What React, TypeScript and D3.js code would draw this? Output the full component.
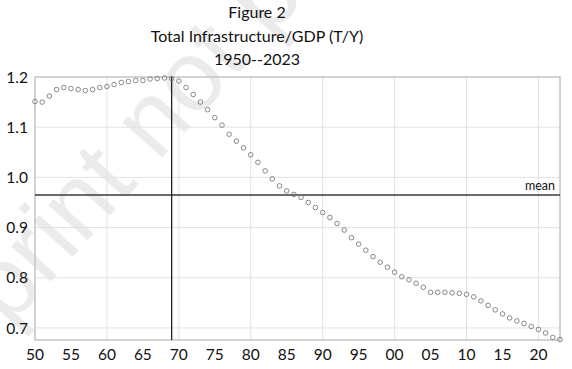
import * as d3 from "d3";

const years = d3.range(1950, 2024);
const ratio = [
  1.151, 1.15, 1.162, 1.175, 1.179, 1.177, 1.175, 1.173, 1.175, 1.179,
  1.181, 1.185, 1.189, 1.191, 1.193, 1.193, 1.196, 1.197, 1.198, 1.197,
  1.192, 1.179, 1.165, 1.15, 1.135, 1.119, 1.104, 1.086, 1.072, 1.059,
  1.045, 1.03, 1.013, 0.997, 0.983, 0.973, 0.966, 0.96, 0.95, 0.94,
  0.93, 0.92, 0.908, 0.895, 0.88, 0.867, 0.855, 0.842, 0.831, 0.821,
  0.811, 0.802, 0.796, 0.789, 0.781, 0.771, 0.771, 0.771, 0.77, 0.769,
  0.767, 0.762, 0.754, 0.745, 0.736, 0.728, 0.72, 0.714, 0.709, 0.703,
  0.697, 0.69, 0.681, 0.677,
];
const meanValue = 0.965;
const peakYear = 1969;
const yTicks = [0.7, 0.8, 0.9, 1.0, 1.1, 1.2];
const xLabelYears = d3.range(1950, 2021, 5);
const xGridYears = d3.range(1960, 2021, 10);
const titleLines = ["Figure 2", "Total Infrastructure/GDP (T/Y)", "1950--2023"];

const W = 572;
const H = 369;
const font = "Lato, 'Open Sans', sans-serif";

export default function App() {
  const x = d3.scaleLinear().domain([1950, 2023]).range([35, 560]);
  const y = d3.scaleLinear().domain([0.676, 1.2]).range([340, 77]);
  const [x0, x1] = x.range();
  const [yb, yt] = y.range();

  return (
    <svg width={W} height={H} style={{ position: "absolute", left: 0, top: 0, background: "#fff" }}>
      {/* faint watermark */}
      <g
        transform="translate(8.7,328) rotate(-48)"
        fill="#ebebeb"
        fontFamily="'Liberation Sans', Arial, sans-serif"
        fontSize={100}
      >
        <text textAnchor="end">Pre</text>
        <text textAnchor="start">print not peer reviewed</text>
      </g>

      {titleLines.map((t, i) => (
        <text key={t} x={257} y={18 + i * 23.5} textAnchor="middle" fontFamily={font} fontSize={16} fill="#111">
          {t}
        </text>
      ))}

      {/* grid */}
      {yTicks.slice(0, -1).map((v) => (
        <line key={v} x1={x0} x2={x1} y1={y(v)} y2={y(v)} stroke="#e2e2e2" strokeWidth={1} />
      ))}
      {xGridYears.map((yr) => (
        <line key={yr} x1={x(yr)} x2={x(yr)} y1={yt} y2={yb} stroke="#e2e2e2" strokeWidth={1} />
      ))}
      <rect x={x0} y={yt} width={x1 - x0} height={yb - yt} fill="none" stroke="#c4c4c4" strokeWidth={1.5} />

      {/* reference lines */}
      <line x1={x0} x2={x1} y1={y(meanValue)} y2={y(meanValue)} stroke="#3a3a3a" strokeWidth={1.6} />
      <line x1={x(peakYear)} x2={x(peakYear)} y1={yt} y2={yb} stroke="#222" strokeWidth={1.3} />
      <text x={555} y={y(meanValue) - 5} textAnchor="end" fontFamily={font} fontSize={12.5} fill="#111">
        mean
      </text>

      {/* points */}
      {years.map((yr, i) => (
        <circle key={yr} cx={x(yr)} cy={y(ratio[i])} r={2.3} fill="none" stroke="#7a7a7a" strokeWidth={0.9} />
      ))}

      {/* axes labels */}
      {yTicks.map((v) => (
        <text key={v} x={28} y={y(v)} dy="0.36em" textAnchor="end" fontFamily={font} fontSize={15.5} fill="#111">
          {d3.format(".1f")(v)}
        </text>
      ))}
      {xLabelYears.map((yr) => (
        <text key={yr} x={x(yr)} y={360} textAnchor="middle" fontFamily={font} fontSize={15.5} fill="#111">
          {String(yr % 100).padStart(2, "0")}
        </text>
      ))}
    </svg>
  );
}
